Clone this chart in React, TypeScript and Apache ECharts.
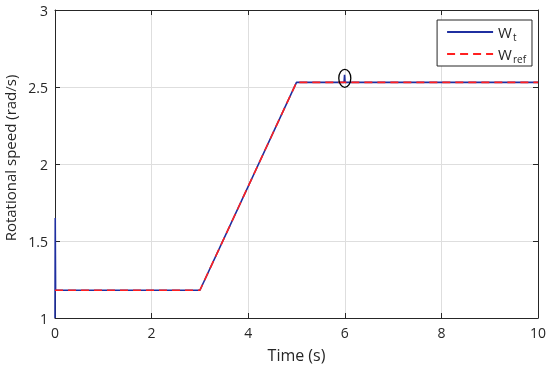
import React, { useEffect, useRef } from "react";
import * as echarts from "echarts";

const wtData: [number, number][] = [
  [0, 1.0], [0.005, 1.65], [0.012, 1.18], [3, 1.18], [5, 2.53],
  [5.985, 2.53], [5.995, 2.58], [6.005, 2.53], [10, 2.53],
];
const wrefData: [number, number][] = [
  [0, 1.18], [3, 1.18], [5, 2.53], [10, 2.53],
];
const xTicks = { min: 0, max: 10, interval: 2 };
const yTicks = { min: 1, max: 3, interval: 0.5 };
const seriesNames = ["Wt", "Wref"];

const FONT = "Open Sans";
const TXT = "#262626";

export default function App() {
  const ref = useRef<HTMLDivElement>(null);
  useEffect(() => {
    if (!ref.current) return;
    const chart = echarts.init(ref.current, undefined, { renderer: "svg" });
    const axisCommon = {
      axisLine: { show: true, onZero: false, lineStyle: { color: TXT, width: 1 } },
      axisTick: { show: true, inside: true, length: 5, lineStyle: { color: TXT } },
    };
    chart.setOption({
      animation: false,
      textStyle: { fontFamily: FONT },
      grid: { left: 55, right: 12, top: 10, bottom: 51, containLabel: false, outerBoundsMode: "none" },
      xAxis: [
        {
          type: "value", ...xTicks, ...axisCommon, position: "bottom",
          name: "Time (s)", nameLocation: "middle", nameGap: 29,
          nameTextStyle: { fontSize: 16, color: TXT, fontFamily: FONT },
          axisLabel: { fontSize: 14, color: TXT, margin: 7, fontFamily: FONT },
          splitLine: { show: true, lineStyle: { color: "#dedede" } },
        },
        {
          type: "value", ...xTicks, ...axisCommon, position: "top",
          axisLabel: { show: false }, splitLine: { show: false },
        },
      ],
      yAxis: [
        {
          type: "value", ...yTicks, ...axisCommon, position: "left",
          name: "Rotational speed (rad/s)", nameLocation: "middle", nameGap: 31,
          nameTextStyle: { fontSize: 15, color: TXT, fontFamily: FONT, padding: [0, 0, 0, 12] },
          axisLabel: { fontSize: 14, color: TXT, margin: 7, fontFamily: FONT },
          splitLine: { show: true, lineStyle: { color: "#dedede" } },
        },
        {
          type: "value", ...yTicks, ...axisCommon, position: "right",
          axisLabel: { show: false }, splitLine: { show: false },
        },
      ],
      legend: {
        orient: "vertical", right: 18, top: 20,
        backgroundColor: "#fff", borderColor: "#262626", borderWidth: 1,
        padding: [2, 6, 2, 9], itemWidth: 46, itemHeight: 10, itemGap: 2,
        itemStyle: { opacity: 0 },
        data: seriesNames,
        formatter: (n: string) =>
          n === "Wt" ? "{w|W}{s|t}" : "{w|W}{s|ref}",
        textStyle: {
          rich: {
            w: { fontSize: 15, color: TXT, fontFamily: FONT, lineHeight: 22 },
            s: { fontSize: 10, color: TXT, fontFamily: FONT, padding: [10, 0, 0, 1], lineHeight: 22 },
          },
        },
      },
      series: [
        {
          name: "Wt", type: "line", data: wtData, showSymbol: false, symbol: "none",
          lineStyle: { color: "#1f2fa0", width: 1.6 }, itemStyle: { color: "#1f2fa0" },
          z: 2,
        },
        {
          name: "Wref", type: "line", data: wrefData, showSymbol: false, symbol: "none",
          lineStyle: { color: "#ff2020", width: 1.6, type: [8, 5] }, itemStyle: { color: "#ff2020" },
          z: 3,
        },
      ],
    });
    const c = chart.convertToPixel({ gridIndex: 0 }, [6, 2.55]) as number[];
    chart.setOption({
      graphic: [
        {
          type: "ellipse", shape: { cx: c[0], cy: c[1] - 1, rx: 6, ry: 9 },
          style: { fill: "none", stroke: "#000", lineWidth: 1.3 }, z: 10,
        },
      ],
    });
    return () => chart.dispose();
  }, []);
  return (
    <div
      ref={ref}
      style={{ position: "fixed", left: 0, top: 0, width: 550, height: 369 }}
    />
  );
}
